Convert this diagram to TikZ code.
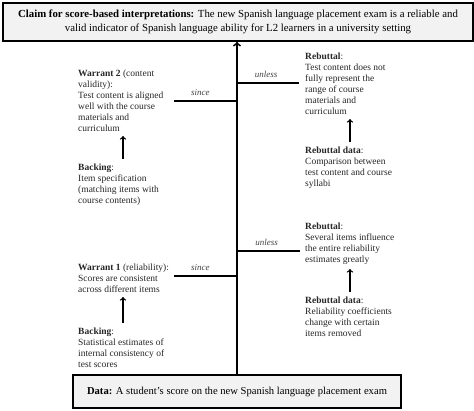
\documentclass[tikz,border=0pt]{standalone}
\usepackage{fontspec}
\setmainfont{Liberation Serif}
\begin{document}
\begin{tikzpicture}[x=1pt,y=-1pt,
        txt/.style={anchor=north west, align=left, inner sep=0pt, font=\fontsize{9.5}{11}\selectfont, text=black!85},
        bigbox/.style={draw, line width=1.8pt, fill=black!5, align=center, inner sep=0pt, font=\fontsize{10.8}{14}\selectfont},
        link/.style={line width=1.4pt},
        tag/.style={anchor=base, yshift=5.5pt, inner sep=0pt, font=\fontsize{9}{10}\selectfont\itshape, text=black!75}]
            \useasboundingbox (0,0) rectangle (474,410);

            % claim and data
            \node[bigbox, minimum width=470pt, minimum height=38pt] (claim) at (238,22)
                {\textbf{Claim for score-based interpretations:} The new Spanish language placement exam is a reliable and\\
                 valid indicator of Spanish language ability for L2 learners in a university setting};
            \node[bigbox, minimum width=328pt, minimum height=33pt, font=\fontsize{10.6}{13}\selectfont] (data) at (237,391.5)
                {\textbf{Data:} A student’s score on the new Spanish language placement exam};

            \draw[->, line width=1.8pt] (data.north) -- (data.north |- claim.south);

            % left side
            \node[txt] (warrant2) at (78,70) {\textbf{Warrant 2} (content\\validity):\\Test content is aligned\\well with the course\\materials and\\curriculum};
            \node[txt] (backing2) at (78,164) {\textbf{Backing}:\\Item specification\\(matching items with\\course contents)};
            \node[txt] (warrant1) at (78,264) {\textbf{Warrant 1} (reliability):\\Scores are consistent\\across different items};
            \node[txt] (backing1) at (78,328) {\textbf{Backing}:\\Statistical estimates of\\internal consistency of\\test scores};

            % right side
            \node[txt] (rebut2) at (305,53) {\textbf{Rebuttal}:\\Test content does not\\fully represent the\\range of course\\materials and\\curriculum};
            \node[txt] (rdata2) at (305,147) {\textbf{Rebuttal data}:\\Comparison between\\test content and course\\syllabi};
            \node[txt] (rebut1) at (305,223) {\textbf{Rebuttal}:\\Several items influence\\the entire reliability\\estimates greatly};
            \node[txt] (rdata1) at (305,297) {\textbf{Rebuttal data}:\\Reliability coefficients\\change with certain\\items removed};

            % backing arrows
            \draw[->, line width=1.3pt] ([xshift=45pt,yshift=5pt]backing2.north west) -- ([xshift=45pt,yshift=-4pt]warrant2.south west);
            \draw[->, line width=1.3pt] ([xshift=45pt,yshift=5pt]backing1.north west) -- ([xshift=45pt,yshift=-4pt]warrant1.south west);
            \draw[->, line width=1.3pt] ([xshift=45pt,yshift=5pt]rdata2.north west) -- ([xshift=45pt,yshift=-4pt]rebut2.south west);
            \draw[->, line width=1.3pt] ([xshift=45pt,yshift=5pt]rdata1.north west) -- ([xshift=45pt,yshift=-4pt]rebut1.south west);

            % since / unless
            \coordinate (since2) at (174,101);
            \coordinate (since1) at (174,276);
            \coordinate (unless2) at (299,83);
            \coordinate (unless1) at (300,251);
            \draw[link] (since2) -- (since2 -| data.north) node[tag, pos=.42] {since};
            \draw[link] (since1) -- (since1 -| data.north) node[tag, pos=.42] {since};
            \draw[link] (unless2 -| data.north) -- (unless2) node[tag, pos=.47] {unless};
            \draw[link] (unless1 -| data.north) -- (unless1) node[tag, pos=.47] {unless};

        \end{tikzpicture}
\end{document}
